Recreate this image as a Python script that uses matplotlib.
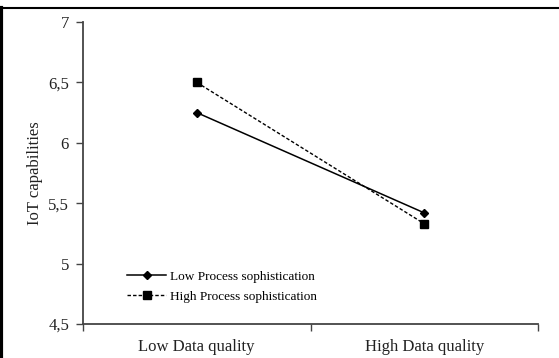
import matplotlib
matplotlib.use("Agg")
import matplotlib.pyplot as plt
from matplotlib.lines import Line2D

categories = ["Low Data quality", "High Data quality"]
low_proc = [6.25, 5.42]
high_proc = [6.50, 5.33]
series_names = ["Low Process sophistication", "High Process sophistication"]
yticks = [4.5, 5, 5.5, 6, 6.5, 7]
ytick_labels = ["4,5", "5", "5,5", "6", "6,5", "7"]

plt.rcParams['font.family'] = ['Liberation Serif', 'DejaVu Serif']

fig = plt.figure(figsize=(5.59, 3.58), dpi=100)
ax = fig.add_axes([83/559, 34/358, 455/559, 302/358])

x = list(range(len(categories)))
ax.plot(x, low_proc, color='black', lw=1.1, ls='-', marker='D', ms=4.5, label=series_names[0])
ax.plot(x, high_proc, color='black', lw=1.0, ls=(0, (2.5, 1.5)), marker='s', ms=5.5, label=series_names[1])

ax.set_xlim(-0.5, 1.5)
ax.set_ylim(4.5, 7)
ax.set_yticks(yticks)
ax.set_yticklabels(ytick_labels, fontsize=12, color='#222222')
ax.set_xticks([-0.5, 0.5, 1.5])
ax.set_xticklabels([])
ax.set_xticks(x, minor=True)
ax.set_xticklabels(categories, minor=True, fontsize=12, color='#222222')
ax.tick_params(axis='x', which='minor', length=0, pad=11)
ax.tick_params(axis='x', which='major', length=5, color='#444444', width=1)
ax.tick_params(axis='y', length=5, color='#444444', width=1, pad=5)
for s in ['top', 'right']:
    ax.spines[s].set_visible(False)
for s in ['left', 'bottom']:
    ax.spines[s].set_color('#444444')
    ax.spines[s].set_linewidth(1.3)
ax.set_ylabel("IoT capabilities", fontsize=12, labelpad=4, color='#222222')

leg = ax.legend(loc='lower left', bbox_to_anchor=(0.07, 0.03), frameon=False,
                fontsize=9.5, handlelength=3.0, handletextpad=0.3, labelspacing=0.6)

# outer border (top and left)
fig.add_artist(Line2D([0, 1], [1 - 8/358, 1 - 8/358], transform=fig.transFigure, color='black', lw=1.5))
fig.add_artist(Line2D([1.5/559, 1.5/559], [0, 1 - 8/358], transform=fig.transFigure, color='black', lw=3))

fig.savefig("out.png", dpi=100)
